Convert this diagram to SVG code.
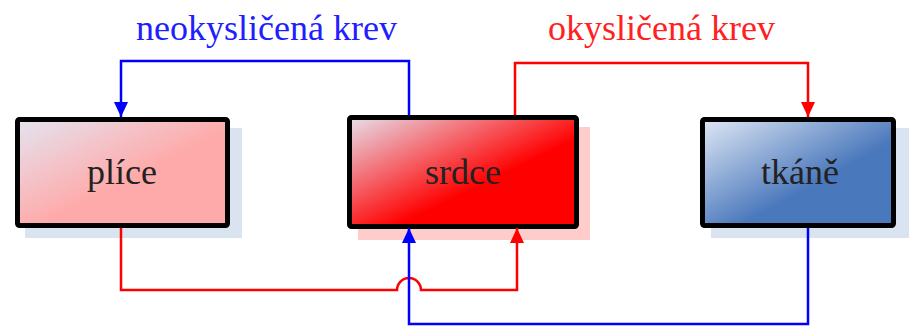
<svg xmlns="http://www.w3.org/2000/svg" width="909" height="327" viewBox="0 0 909 327">
  <style>
    .box { stroke: #000; stroke-width: 5; }
    .label { font-size: 36px; fill: #222; text-anchor: middle; }
    .title { font-size: 36px; }
    .blue { stroke: #0000ff; }
    .red { stroke: #ff0000; }
    .wire { fill: none; stroke-width: 2.5; }
  </style>
  <defs>
    <linearGradient id="gPlice" x1="0" y1="0" x2="1" y2="1">
      <stop offset="0" stop-color="#e4e4f0"/>
      <stop offset="0.55" stop-color="#ffaaaa"/>
      <stop offset="1" stop-color="#ffaaaa"/>
    </linearGradient>
    <linearGradient id="gSrdce" x1="0" y1="0" x2="1" y2="1">
      <stop offset="0" stop-color="#e6e0ec"/>
      <stop offset="0.6" stop-color="#ff0000"/>
      <stop offset="1" stop-color="#ff0000"/>
    </linearGradient>
    <linearGradient id="gTkane" x1="0" y1="0" x2="1" y2="1">
      <stop offset="0" stop-color="#e0e8f4"/>
      <stop offset="0.6" stop-color="#4a78bc"/>
      <stop offset="1" stop-color="#4a78bc"/>
    </linearGradient>
    <marker id="arrBlue" markerUnits="userSpaceOnUse" markerWidth="16" markerHeight="16" viewBox="0 0 16 16" refX="15" refY="8" orient="auto">
      <path d="M0,1 L15,8 L0,15 Z" fill="#0000ff"/>
    </marker>
    <marker id="arrRed" markerUnits="userSpaceOnUse" markerWidth="16" markerHeight="16" viewBox="0 0 16 16" refX="15" refY="8" orient="auto">
      <path d="M0,1 L15,8 L0,15 Z" fill="#ff0000"/>
    </marker>
  </defs>

  <g id="plice">
    <rect x="25" y="128" width="217" height="110" fill="#dae3f0"/>
    <rect class="box" x="17.5" y="119.5" width="210" height="106" rx="2" fill="url(#gPlice)"/>
    <text class="label" x="122" y="184" font-family="'Liberation Serif', 'DejaVu Serif', serif">plíce</text>
  </g>

  <g id="srdce">
    <rect x="358" y="127" width="232" height="113" fill="#ffcccc"/>
    <rect class="box" x="349.5" y="117.5" width="227" height="109" rx="2" fill="url(#gSrdce)"/>
    <text class="label" x="463" y="184" font-family="'Liberation Serif', 'DejaVu Serif', serif">srdce</text>
  </g>

  <g id="tkane">
    <rect x="711" y="128" width="198" height="110" fill="#dae3f0"/>
    <rect class="box" x="702.5" y="119.5" width="191" height="106" rx="2" fill="url(#gTkane)"/>
    <text class="label" x="800" y="184" font-family="'Liberation Serif', 'DejaVu Serif', serif">tkáně</text>
  </g>

  <g id="connectors">
    <path class="wire blue" d="M409,115 V61 H121 V117" marker-end="url(#arrBlue)"/>
    <path class="wire red" d="M515,115 V63 H808 V117" marker-end="url(#arrRed)"/>
    <path class="wire red" d="M121,228 V290 H397 A12,12 0 0 1 421,290 H517 V228" marker-end="url(#arrRed)"/>
    <path class="wire blue" d="M808,228 V324 H409 V228" marker-end="url(#arrBlue)"/>
    <text class="title" x="136" y="40" fill="#2020ff" font-family="'Liberation Serif', 'DejaVu Serif', serif">neokysličená krev</text>
    <text class="title" x="548" y="40" fill="#ff2020" font-family="'Liberation Serif', 'DejaVu Serif', serif">okysličená krev</text>
  </g>
</svg>
